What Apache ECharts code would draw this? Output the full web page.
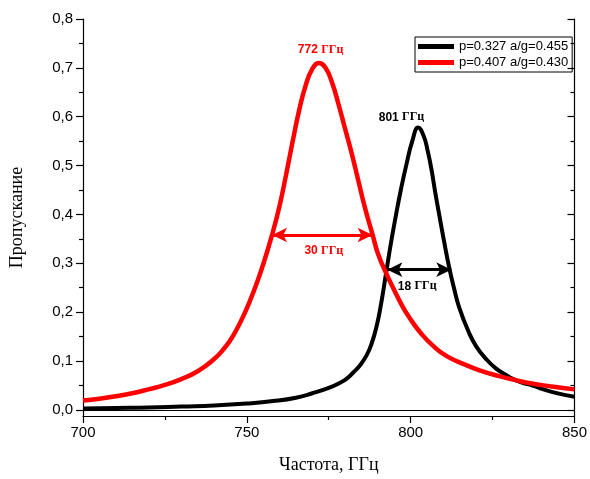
<!DOCTYPE html>
<html>
<head>
<meta charset="utf-8">
<script src="https://cdn.jsdelivr.net/npm/echarts@6/dist/echarts.min.js"></script>
<style>
  html, body { margin: 0; padding: 0; background: #fff; }
  #chart { width: 590px; height: 479px; }
</style>
</head>
<body>
<div id="chart"></div>
<script>
// Transmission spectra of two structures (frequency in GHz)
const blackFreq = [700, 710, 720, 730, 740, 750, 758, 765, 770, 775, 778.3, 780.5, 782.4, 784.5, 786.5, 788, 789.5, 791, 792.5, 794, 795.5, 797, 798.8, 800.5, 802.3, 804, 805.2, 806.4, 807.5, 808.7, 810.2, 811.8, 813.2, 814.8, 817.8, 820, 822.9, 826, 829, 831, 834, 837, 843, 850];
const blackVal  = [0.003, 0.004, 0.005, 0.007, 0.009, 0.013, 0.018, 0.025, 0.034, 0.045, 0.055, 0.064, 0.076, 0.091, 0.111, 0.134, 0.168, 0.218, 0.28, 0.342, 0.398, 0.45, 0.505, 0.55, 0.578, 0.56, 0.53, 0.49, 0.445, 0.40, 0.345, 0.29, 0.25, 0.21, 0.158, 0.13, 0.105, 0.085, 0.072, 0.064, 0.056, 0.05, 0.037, 0.027];

const redFreq = [700, 705, 710, 715, 720, 725, 730, 735, 740, 743, 745, 747, 749, 751, 753, 755, 757.7, 760, 762, 764, 766, 768, 770, 772, 774, 776, 778, 780, 782, 784, 786, 788.4, 790, 792.5, 795, 797.5, 800, 803, 806.7, 811, 816.8, 821, 827, 832, 837, 843, 850];
const redVal  = [0.019, 0.023, 0.028, 0.034, 0.042, 0.051, 0.063, 0.079, 0.104, 0.125, 0.143, 0.166, 0.193, 0.224, 0.259, 0.298, 0.358, 0.418, 0.482, 0.55, 0.614, 0.665, 0.698, 0.71, 0.70, 0.67, 0.625, 0.575, 0.525, 0.47, 0.415, 0.358, 0.32, 0.28, 0.245, 0.212, 0.185, 0.158, 0.132, 0.11, 0.092, 0.081, 0.069, 0.061, 0.054, 0.048, 0.042];

const seriesNames = ['p=0.327 a/g=0.455', 'p=0.407 a/g=0.430'];

// Peak and width annotations: [frequency, value] of label centers
const blackPeakLabel = { text: '801', at: [797.2, 0.599] };
const redPeakLabel   = { text: '772', at: [772.5, 0.737] };
const blackWidthLabel = { text: '18', at: [802, 0.253] };
const redWidthLabel   = { text: '30', at: [773.5, 0.326] };
// Full-width arrows: [from, to, level]
const blackWidth = [792.9, 812.4, 0.287];
const redWidth   = [757.7, 788.4, 0.358];

const yTicks = [0, 0.1, 0.2, 0.3, 0.4, 0.5, 0.6, 0.7, 0.8];
const yMinor = [0.05, 0.15, 0.25, 0.35, 0.45, 0.55, 0.65, 0.75];

const zip = (a, b) => a.map((v, i) => [v, b[i]]);

function annot(lbl, color) {
  return {
    coord: lbl.at,
    symbol: 'circle',
    symbolSize: 0,
    label: {
      show: true,
      position: 'inside',
      formatter: '{n|' + lbl.text + '} {u|ГГц}',
      rich: {
        n: { fontFamily: 'Liberation Sans', fontWeight: 'bold', fontSize: 12, color: color },
        u: { fontFamily: 'Liberation Serif', fontWeight: 'bold', fontSize: 12, color: color }
      }
    }
  };
}

function widthArrow(w, color) {
  return {
    silent: true,
    symbol: ['arrow', 'arrow'],
    symbolSize: [11, 15],
    lineStyle: { color: color, width: 3, type: 'solid' },
    label: { show: false },
    data: [[{ coord: [w[0], w[2]] }, { coord: [w[1], w[2]] }]]
  };
}

const yBase = {
  type: 'value', min: -0.0125, max: 0.8,
  splitLine: { show: false }
};

const chart = echarts.init(document.getElementById('chart'), null, { renderer: 'canvas' });
chart.setOption({
  animation: false,
  backgroundColor: '#fff',
  grid: { left: 82, right: 12, top: 19, bottom: 59 },
  legend: {
    orient: 'vertical',
    left: 415, top: 37,
    padding: [3, 4, 3, 3],
    itemGap: 3,
    itemWidth: 36, itemHeight: 5,
    borderColor: '#000', borderWidth: 1,
    icon: 'rect',
    textStyle: { fontFamily: 'Liberation Sans', fontSize: 13, color: '#000' },
    data: seriesNames
  },
  xAxis: [{
    type: 'value', min: 700, max: 850, interval: 50,
    name: 'Частота, ГГц', nameLocation: 'middle', nameGap: 40,
    nameTextStyle: { fontFamily: 'Liberation Serif', fontSize: 18, color: '#000' },
    axisLine: { show: true, onZero: false, lineStyle: { color: '#000', width: 1.2 } },
    axisTick: { show: true, length: 7, lineStyle: { color: '#000', width: 1.2 } },
    minorTick: { show: true, splitNumber: 2, length: 4, lineStyle: { color: '#000', width: 1.2 } },
    axisLabel: { margin: 9, fontFamily: 'Liberation Sans', fontSize: 15, color: '#000' },
    splitLine: { show: false }
  }, {
    type: 'value', min: 700, max: 850, position: 'top',
    axisLine: { show: true, lineStyle: { color: '#000', width: 1.2 } },
    axisTick: { show: false }, axisLabel: { show: false }, splitLine: { show: false }
  }],
  yAxis: [
    Object.assign({}, yBase, {
      position: 'left',
      name: 'Пропускание', nameLocation: 'middle', nameGap: 57, nameRotate: 90,
      nameTextStyle: { fontFamily: 'Liberation Serif', fontSize: 18, color: '#000' },
      axisLine: { show: true, lineStyle: { color: '#000', width: 1.2 } },
      axisTick: { show: true, length: 7, customValues: yTicks, lineStyle: { color: '#000', width: 1.2 } },
      axisLabel: { margin: 10, customValues: yTicks, fontFamily: 'Liberation Sans', fontSize: 15, color: '#000',
        formatter: v => v.toFixed(1).replace('.', ',') }
    }),
    Object.assign({}, yBase, {
      position: 'left',
      axisLine: { show: false },
      axisTick: { show: true, length: 4, customValues: yMinor, lineStyle: { color: '#000', width: 1.2 } },
      axisLabel: { show: false }
    }),
    Object.assign({}, yBase, {
      position: 'right',
      axisLine: { show: true, lineStyle: { color: '#000', width: 1.2 } },
      axisTick: { show: true, inside: true, length: 7, customValues: yTicks, lineStyle: { color: '#000', width: 1.2 } },
      axisLabel: { show: false }
    }),
    Object.assign({}, yBase, {
      position: 'right',
      axisLine: { show: false },
      axisTick: { show: true, inside: true, length: 4, customValues: yMinor, lineStyle: { color: '#000', width: 1.2 } },
      axisLabel: { show: false }
    })
  ],
  series: [{
    name: seriesNames[0],
    type: 'line',
    smooth: 0.5,
    showSymbol: false,
    color: '#000000',
    lineStyle: { width: 4, color: '#000000' },
    data: zip(blackFreq, blackVal),
    markPoint: { silent: true, data: [annot(blackPeakLabel, '#000'), annot(blackWidthLabel, '#000')] },
    markLine: widthArrow(blackWidth, '#000'),
    z: 3
  }, {
    name: seriesNames[1],
    type: 'line',
    smooth: 0.5,
    showSymbol: false,
    color: '#ff0000',
    lineStyle: { width: 4.5, color: '#ff0000' },
    data: zip(redFreq, redVal),
    markPoint: { silent: true, data: [annot(redPeakLabel, '#ff0000'), annot(redWidthLabel, '#ff0000')] },
    markLine: widthArrow(redWidth, '#ff0000'),
    z: 4
  }]
});
</script>
</body>
</html>
